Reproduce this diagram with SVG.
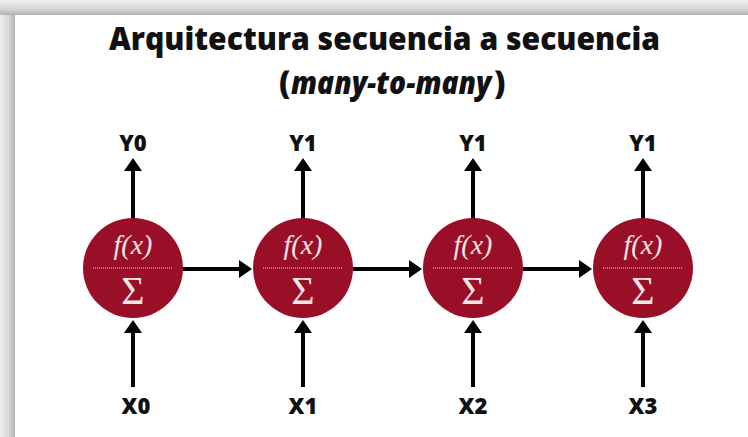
<svg xmlns="http://www.w3.org/2000/svg" width="748" height="437" viewBox="0 0 748 437">
  <defs>
    <linearGradient id="gl" x1="0" y1="0" x2="1" y2="0">
      <stop offset="0" stop-color="#f0f0f0"/>
      <stop offset="0.6" stop-color="#d6d6d6"/>
      <stop offset="1" stop-color="#b2b2b2"/>
    </linearGradient>
    <linearGradient id="gt" x1="0" y1="0" x2="0" y2="1">
      <stop offset="0" stop-color="#f0f0f0"/>
      <stop offset="0.6" stop-color="#d6d6d6"/>
      <stop offset="1" stop-color="#b2b2b2"/>
    </linearGradient>
    <marker id="ah" markerUnits="userSpaceOnUse" markerWidth="14" markerHeight="20" refX="1" refY="10" orient="auto">
      <path d="M0,1 L13,10 L0,19 Z" fill="#000"/>
    </marker>
  </defs>
  <style>
    .title { font-family: "Open Sans", "Liberation Sans", sans-serif; font-weight: 800; fill: #111; font-size: 32px; }
    .lbl { font-family: "Open Sans", "Liberation Sans", sans-serif; font-weight: 800; font-size: 22px; fill: #111; text-anchor: middle; }
    .cell { fill: #9a0f28; }
    .fx { font-family: "Liberation Serif", "DejaVu Serif", serif; font-style: italic; font-size: 28px; fill: #f4e4e6; text-anchor: middle; }
    .sig { font-family: "Liberation Serif", "DejaVu Serif", serif; font-size: 40px; fill: #f4e4e6; text-anchor: middle; }
    .dot { stroke: #f0c8cc; stroke-width: 1; stroke-dasharray: 1 1; }
    .conn { stroke: #000; stroke-width: 4; fill: none; marker-end: url(#ah); }
  </style>
  <rect x="0" y="0" width="748" height="437" fill="#ffffff"/>
  <rect x="0" y="0" width="15" height="437" fill="url(#gl)"/>
  <rect x="0" y="0" width="748" height="15" fill="url(#gt)"/>

  <g id="title">
    <text class="title" x="109" y="50" textLength="551" lengthAdjust="spacingAndGlyphs">Arquitectura secuencia a secuencia</text>
    <text class="title" x="279" y="94">(</text>
    <text class="title" x="0" y="0" font-style="italic" transform="translate(291,94) scale(0.88,1)">many-to-many</text>
    <text class="title" x="494" y="94">)</text>
  </g>

  <g id="connectors">
    <line class="conn" x1="133" y1="220" x2="133" y2="170"/>
    <line class="conn" x1="303" y1="220" x2="303" y2="170"/>
    <line class="conn" x1="473" y1="220" x2="473" y2="170"/>
    <line class="conn" x1="643" y1="220" x2="643" y2="170"/>
    <line class="conn" x1="133" y1="387" x2="133" y2="332"/>
    <line class="conn" x1="303" y1="387" x2="303" y2="332"/>
    <line class="conn" x1="473" y1="387" x2="473" y2="332"/>
    <line class="conn" x1="643" y1="387" x2="643" y2="332"/>
    <line class="conn" x1="183" y1="269" x2="240" y2="269"/>
    <line class="conn" x1="353" y1="269" x2="410" y2="269"/>
    <line class="conn" x1="523" y1="269" x2="580" y2="269"/>
  </g>

  <g id="cell0">
    <circle class="cell" cx="133" cy="268" r="50"/>
    <line class="dot" x1="93" y1="268" x2="173" y2="268"/>
    <text class="fx" x="133" y="254">f(x)</text>
    <text class="sig" x="133" y="304">Σ</text>
  </g>
  <g id="cell1">
    <circle class="cell" cx="303" cy="268" r="50"/>
    <line class="dot" x1="263" y1="268" x2="343" y2="268"/>
    <text class="fx" x="303" y="254">f(x)</text>
    <text class="sig" x="303" y="304">Σ</text>
  </g>
  <g id="cell2">
    <circle class="cell" cx="473" cy="268" r="50"/>
    <line class="dot" x1="433" y1="268" x2="513" y2="268"/>
    <text class="fx" x="473" y="254">f(x)</text>
    <text class="sig" x="473" y="304">Σ</text>
  </g>
  <g id="cell3">
    <circle class="cell" cx="643" cy="268" r="50"/>
    <line class="dot" x1="603" y1="268" x2="683" y2="268"/>
    <text class="fx" x="643" y="254">f(x)</text>
    <text class="sig" x="643" y="304">Σ</text>
  </g>

  <g id="out0"><text class="lbl" x="133" y="151">Y0</text></g>
  <g id="out1"><text class="lbl" x="303" y="151">Y1</text></g>
  <g id="out2"><text class="lbl" x="473" y="151">Y1</text></g>
  <g id="out3"><text class="lbl" x="643" y="151">Y1</text></g>
  <g id="in0"><text class="lbl" x="136" y="414">X0</text></g>
  <g id="in1"><text class="lbl" x="303" y="414">X1</text></g>
  <g id="in2"><text class="lbl" x="473" y="414">X2</text></g>
  <g id="in3"><text class="lbl" x="643" y="414">X3</text></g>
</svg>
